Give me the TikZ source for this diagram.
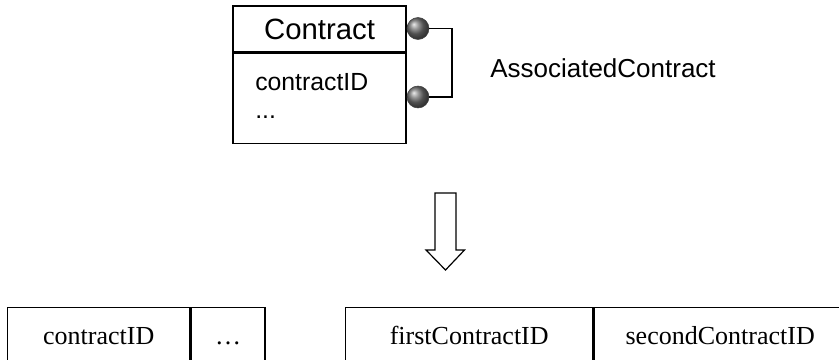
\documentclass[tikz,border=0pt]{standalone}
\usepackage{fontspec}
\setmainfont{Liberation Serif}
\newfontfamily\arialfont{Liberation Sans}
\usetikzlibrary{positioning,calc}
\tikzset{
box/.style={draw,line width=1.1pt,inner sep=0pt},
classhead/.style={box,minimum width=173*0.75pt,minimum height=46*0.75pt,font=\arialfont\fontsize{22}{26}\selectfont},
classbody/.style={box,minimum width=173*0.75pt,minimum height=90*0.75pt},
attr/.style={inner sep=0pt,font=\arialfont\fontsize{18.6}{22}\selectfont},
role/.style={attr,font=\arialfont\fontsize{19.5}{23}\selectfont},
ball/.style={circle,inner sep=0pt,minimum size=22*0.75pt,shade,ball color=black!55,draw=black!75,thin},
link/.style={line width=1.1pt},
cell/.style={box,minimum height=62*0.75pt,text height=13pt,text depth=4pt,font=\fontsize{19.5}{23}\selectfont},
bigarrow/.style={draw,line width=0.9pt,line join=miter},
}

\begin{document}
\begin{tikzpicture}[x=0.75pt,y=-0.75pt]
        \clip (0,0) rectangle (839,360);

        % class
        \node[classhead] (head) at (319.5,29) {Contract};
        \node[classbody, below=0pt of head] (body) {};
        \node[attr, anchor=base west] (cid) at (255,90) {contractID};
        \node[attr, anchor=base west] (more) at (255,118) {...};

        % self association
        \node[ball] (c1) at (418,28.5) {};
        \node[ball] (c2) at (418,97) {};
        \coordinate (rail) at (452,62);
        \draw[link] (c1.east) -| (rail) |- (c2.east);
        \node[role, anchor=base west] (assoc) at (490,78) {AssociatedContract};

        % mapping
        \coordinate (arrtop) at (445.5,193);
        \draw[bigarrow] (arrtop) +(-10.5,0) -- +(-10.5,57) -- +(-19.5,57)
            -- +(0,77) -- +(19,57) -- +(10.5,57) -- +(10.5,0) -- cycle;

        % tables
        \node[cell, minimum width=182*0.75pt, anchor=north west] (t1a) at (7,307) {contractID};
        \node[cell, minimum width=74*0.75pt, right=0pt of t1a] (t1b) {\dots};
        \node[cell, minimum width=247*0.75pt, anchor=north west] (t2a) at (345,307) {firstContractID};
        \node[cell, minimum width=252*0.75pt, right=0pt of t2a] (t2b) {secondContractID};
    \end{tikzpicture}
\end{document}
